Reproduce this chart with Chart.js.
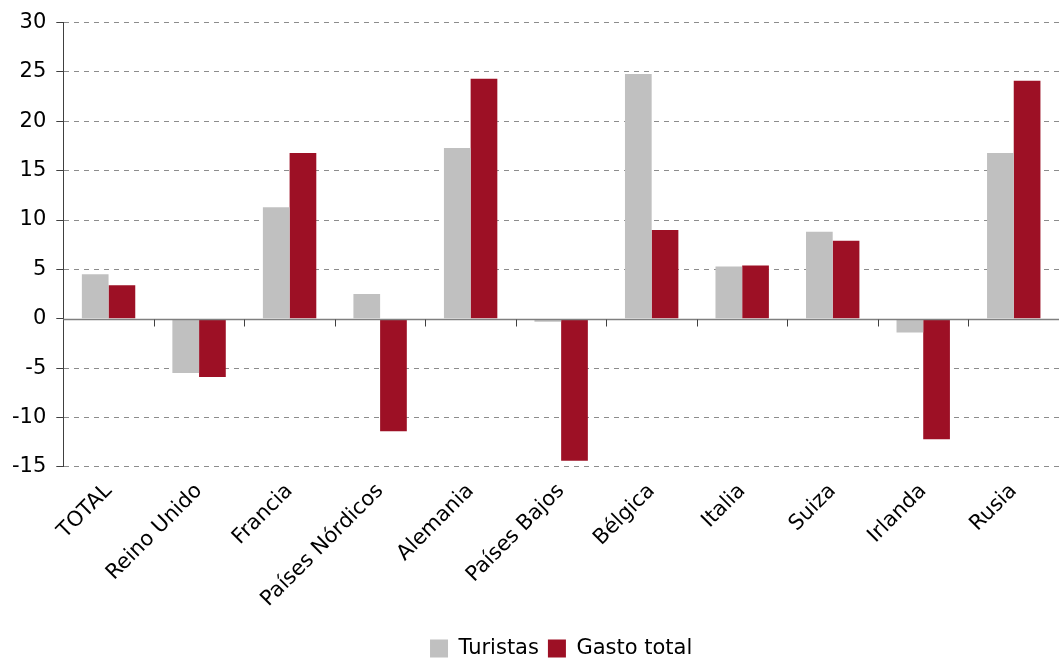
<!DOCTYPE html>
<html>
<head>
<meta charset="utf-8">
<script src="https://cdn.jsdelivr.net/npm/chart.js@4/dist/chart.umd.min.js"></script>
<style>
  body { margin: 0; background: #fff; }
  #wrap { width: 1059px; height: 659px; }
</style>
</head>
<body>
<div id="wrap"><canvas id="chart" width="1059" height="659"></canvas></div>
<script>
// Data
const categories = ['TOTAL', 'Reino Unido', 'Francia', 'Países Nórdicos', 'Alemania',
                    'Países Bajos', 'Bélgica', 'Italia', 'Suiza', 'Irlanda', 'Rusia'];
const turistas   = [4.5, -5.5, 11.3, 2.5, 17.3, -0.3, 24.8, 5.3, 8.8, -1.4, 16.8];
const gastoTotal = [3.4, -5.9, 16.8, -11.4, 24.3, -14.4, 9.0, 5.4, 7.9, -12.2, 24.1];
const yTicks     = [-15, -10, -5, 0, 5, 10, 15, 20, 25, 30];

const FONT = 'DejaVu Sans';

// zero line + small category separators hanging below it
const zeroLine = {
    id: 'zeroLine',
    afterDatasetsDraw(chart) {
        const ctx = chart.ctx;
        const x = chart.scales.x;
        const y = chart.scales.y;
        const y0 = Math.round(y.getPixelForValue(0)) + 0.5;
        ctx.save();
        ctx.strokeStyle = '#7f7f7f';
        ctx.lineWidth = 1.5;
        ctx.beginPath();
        ctx.moveTo(chart.chartArea.left, y0);
        ctx.lineTo(chart.chartArea.right, y0);
        ctx.stroke();
        ctx.strokeStyle = '#404040';
        ctx.lineWidth = 1;
        for (let i = 1; i < categories.length; i++) {
            const px = Math.round(x.getPixelForValue(i - 0.5)) + 0.5;
            ctx.beginPath();
            ctx.moveTo(px, y0);
            ctx.lineTo(px, y0 + 7);
            ctx.stroke();
        }
        ctx.restore();
    }
};

new Chart(document.getElementById('chart').getContext('2d'), {
    type: 'bar',
    data: {
        labels: categories,
        datasets: [{
            label: 'Turistas',
            data: turistas,
            backgroundColor: '#c0c0c0'
        }, {
            label: 'Gasto total',
            data: gastoTotal,
            backgroundColor: '#9d1025'
        }]
    },
    options: {
        responsive: false,
        animation: false,
        layout: { padding: { top: 18, right: 0, bottom: -10, left: 0 } },
        datasets: {
            bar: { categoryPercentage: 0.59, barPercentage: 1.0 }
        },
        plugins: {
            legend: {
                position: 'bottom',
                fullSize: false,
                labels: {
                    boxWidth: 18,
                    boxHeight: 18,
                    padding: 9,
                    color: '#000',
                    font: { family: FONT, size: 21 }
                }
            },
            tooltip: { enabled: false }
        },
        scales: {
            x: {
                grid: { display: false },
                border: { display: false },
                afterFit: scale => { scale.height += 13; },
                ticks: {
                    color: '#000',
                    minRotation: 45,
                    maxRotation: 45,
                    padding: 4,
                    font: { family: FONT, size: 21 }
                }
            },
            y: {
                min: -15,
                max: 30,
                afterBuildTicks: axis => { axis.ticks = yTicks.map(v => ({ value: v })); },
                afterFit: scale => { scale.width += 2; },
                grid: {
                    color: ctx => ctx.tick && ctx.tick.value === 0 ? 'rgba(0,0,0,0)' : '#8c8c8c',
                    lineWidth: 1,
                    tickLength: 7,
                    tickColor: '#404040'
                },
                border: { display: true, color: '#404040', width: 1, dash: [5, 5] },
                ticks: {
                    color: '#000',
                    padding: 10,
                    font: { family: FONT, size: 21 }
                }
            }
        }
    },
    plugins: [zeroLine]
});
</script>
</body>
</html>
